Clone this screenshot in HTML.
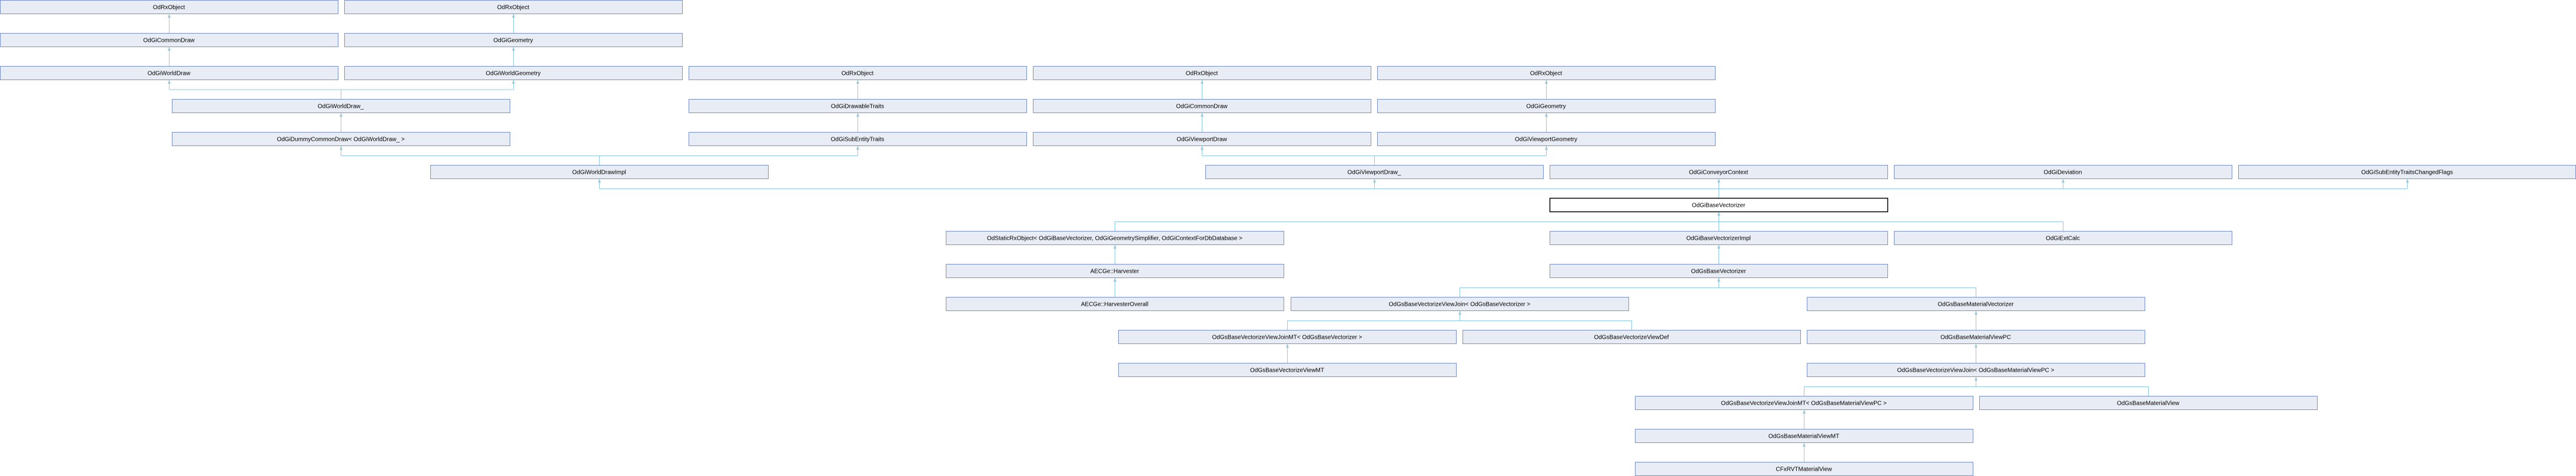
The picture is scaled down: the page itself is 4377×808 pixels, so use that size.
<!DOCTYPE html>
<html><head><meta charset="utf-8"><style>
html,body{margin:0;padding:0;background:#fff;width:4377px;height:808px;overflow:hidden}
svg{display:block}
.b{fill:#e8ecf5;stroke:#7b90c9;stroke-width:1}
.k{fill:#fff;stroke:#000;stroke-width:1.5}
.t{font-family:"Liberation Sans",sans-serif;font-size:10px;fill:#000;text-anchor:middle}
.l{stroke:#8ecae6;stroke-width:1;fill:none}
.a{fill:#8ecae6}
</style></head><body>
<svg width="4377" height="808" viewBox="0 0 4377 808" xmlns="http://www.w3.org/2000/svg">
<g class="l">
<path d="M287.5 24V56M287.5 80V112M872.5 24V56M872.5 80V112"/>
<path d="M579.5 168V152M287.5 152H872.5M287.5 152V136M872.5 152V136"/>
<path d="M1457.5 136V168M1457.5 192V224M2042.5 136V168M2042.5 192V224M2627.5 136V168M2627.5 192V224M579.5 192V224"/>
<path d="M1018.5 280V264M579.5 264.5H1457.5M579.5 264V248M1457.5 264V248"/>
<path d="M2335.5 280V264M2042.5 264.5H2627.5M2042.5 264V248M2627.5 264V248"/>
<path d="M2920.5 336V320M1018.5 320.5H4090.5M1018.5 320V304M2335.5 320V304M2920.5 320V304M3505.5 320V304M4090.5 320V304"/>
<path d="M2920.5 376V360M1894.5 376.5H3505.5M1894.5 392V376M2920.5 392V376M3505.5 392V376"/>
<path d="M1894.5 416V448M1894.5 472V504M2920.5 416V448"/>
<path d="M2920.5 488V472M2480.5 488.5H3357.5M2480.5 504V488M3357.5 504V488"/>
<path d="M2480.5 544V528M2187.5 544.5H2772.5M2187.5 560V544M2772.5 560V544M3357.5 528V560"/>
<path d="M2187.5 584V616M3357.5 584V616"/>
<path d="M3357.5 656V640M3065.5 656.5H3650.5M3065.5 672V656M3650.5 672V656"/>
<path d="M3065.5 696V728M3065.5 752V784"/>
</g>
<g class="a">
<path d="M287.5 24l-2.5 6h5zM287.5 80l-2.5 6h5zM872.5 24l-2.5 6h5zM872.5 80l-2.5 6h5z"/>
<path d="M287.5 136l-2.5 6h5zM872.5 136l-2.5 6h5zM1457.5 136l-2.5 6h5zM1457.5 192l-2.5 6h5zM2042.5 136l-2.5 6h5zM2042.5 192l-2.5 6h5zM2627.5 136l-2.5 6h5zM2627.5 192l-2.5 6h5zM579.5 192l-2.5 6h5z"/>
<path d="M579.5 248l-2.5 6h5zM1457.5 248l-2.5 6h5zM2042.5 248l-2.5 6h5zM2627.5 248l-2.5 6h5z"/>
<path d="M1018.5 304l-2.5 6h5zM2335.5 304l-2.5 6h5zM2920.5 304l-2.5 6h5zM3505.5 304l-2.5 6h5zM4090.5 304l-2.5 6h5z"/>
<path d="M2920.5 360l-2.5 6h5zM1894.5 416l-2.5 6h5zM1894.5 472l-2.5 6h5zM2920.5 416l-2.5 6h5zM2920.5 472l-2.5 6h5zM2480.5 528l-2.5 6h5zM3357.5 528l-2.5 6h5zM2187.5 584l-2.5 6h5zM3357.5 584l-2.5 6h5zM3357.5 640l-2.5 6h5zM3065.5 696l-2.5 6h5zM3065.5 752l-2.5 6h5z"/>
</g>
<g>
<rect class="b" x="0.5" y="0.5" width="574" height="23"/><text class="t" x="287" y="15.5">OdRxObject</text>
<rect class="b" x="585.5" y="0.5" width="574" height="23"/><text class="t" x="872" y="15.5">OdRxObject</text>
<rect class="b" x="0.5" y="56.5" width="574" height="23"/><text class="t" x="287" y="71.5">OdGiCommonDraw</text>
<rect class="b" x="585.5" y="56.5" width="574" height="23"/><text class="t" x="872" y="71.5">OdGiGeometry</text>
<rect class="b" x="0.5" y="112.5" width="574" height="23"/><text class="t" x="287" y="127.5">OdGiWorldDraw</text>
<rect class="b" x="585.5" y="112.5" width="574" height="23"/><text class="t" x="872" y="127.5">OdGiWorldGeometry</text>
<rect class="b" x="1170.5" y="112.5" width="574" height="23"/><text class="t" x="1457" y="127.5">OdRxObject</text>
<rect class="b" x="1755.5" y="112.5" width="574" height="23"/><text class="t" x="2042" y="127.5">OdRxObject</text>
<rect class="b" x="2340.5" y="112.5" width="574" height="23"/><text class="t" x="2627" y="127.5">OdRxObject</text>
<rect class="b" x="292.5" y="168.5" width="574" height="23"/><text class="t" x="579" y="183.5">OdGiWorldDraw_</text>
<rect class="b" x="1170.5" y="168.5" width="574" height="23"/><text class="t" x="1457" y="183.5">OdGiDrawableTraits</text>
<rect class="b" x="1755.5" y="168.5" width="574" height="23"/><text class="t" x="2042" y="183.5">OdGiCommonDraw</text>
<rect class="b" x="2340.5" y="168.5" width="574" height="23"/><text class="t" x="2627" y="183.5">OdGiGeometry</text>
<rect class="b" x="292.5" y="224.5" width="574" height="23"/><text class="t" x="579" y="239.5">OdGiDummyCommonDraw&lt; OdGiWorldDraw_ &gt;</text>
<rect class="b" x="1170.5" y="224.5" width="574" height="23"/><text class="t" x="1457" y="239.5">OdGiSubEntityTraits</text>
<rect class="b" x="1755.5" y="224.5" width="574" height="23"/><text class="t" x="2042" y="239.5">OdGiViewportDraw</text>
<rect class="b" x="2340.5" y="224.5" width="574" height="23"/><text class="t" x="2627" y="239.5">OdGiViewportGeometry</text>
<rect class="b" x="731.5" y="280.5" width="574" height="23"/><text class="t" x="1018" y="295.5">OdGiWorldDrawImpl</text>
<rect class="b" x="2048.5" y="280.5" width="574" height="23"/><text class="t" x="2335" y="295.5">OdGiViewportDraw_</text>
<rect class="b" x="2633.5" y="280.5" width="574" height="23"/><text class="t" x="2920" y="295.5">OdGiConveyorContext</text>
<rect class="b" x="3218.5" y="280.5" width="574" height="23"/><text class="t" x="3505" y="295.5">OdGiDeviation</text>
<rect class="b" x="3803.5" y="280.5" width="573" height="23"/><text class="t" x="4090" y="295.5">OdGiSubEntityTraitsChangedFlags</text>
<rect class="k" x="2633.5" y="336.5" width="574" height="23"/><text class="t" x="2920" y="351.5">OdGiBaseVectorizer</text>
<rect class="b" x="1607.5" y="392.5" width="574" height="23"/><text class="t" x="1894" y="407.5">OdStaticRxObject&lt; OdGiBaseVectorizer, OdGiGeometrySimplifier, OdGiContextForDbDatabase &gt;</text>
<rect class="b" x="2633.5" y="392.5" width="574" height="23"/><text class="t" x="2920" y="407.5">OdGiBaseVectorizerImpl</text>
<rect class="b" x="3218.5" y="392.5" width="574" height="23"/><text class="t" x="3505" y="407.5">OdGiExtCalc</text>
<rect class="b" x="1607.5" y="448.5" width="574" height="23"/><text class="t" x="1894" y="463.5">AECGe::Harvester</text>
<rect class="b" x="2633.5" y="448.5" width="574" height="23"/><text class="t" x="2920" y="463.5">OdGsBaseVectorizer</text>
<rect class="b" x="1607.5" y="504.5" width="574" height="23"/><text class="t" x="1894" y="519.5">AECGe::HarvesterOverall</text>
<rect class="b" x="2193.5" y="504.5" width="574" height="23"/><text class="t" x="2480" y="519.5">OdGsBaseVectorizeViewJoin&lt; OdGsBaseVectorizer &gt;</text>
<rect class="b" x="3070.5" y="504.5" width="574" height="23"/><text class="t" x="3357" y="519.5">OdGsBaseMaterialVectorizer</text>
<rect class="b" x="1900.5" y="560.5" width="574" height="23"/><text class="t" x="2187" y="575.5">OdGsBaseVectorizeViewJoinMT&lt; OdGsBaseVectorizer &gt;</text>
<rect class="b" x="2485.5" y="560.5" width="574" height="23"/><text class="t" x="2772" y="575.5">OdGsBaseVectorizeViewDef</text>
<rect class="b" x="3070.5" y="560.5" width="574" height="23"/><text class="t" x="3357" y="575.5">OdGsBaseMaterialViewPC</text>
<rect class="b" x="1900.5" y="616.5" width="574" height="23"/><text class="t" x="2187" y="631.5">OdGsBaseVectorizeViewMT</text>
<rect class="b" x="3070.5" y="616.5" width="574" height="23"/><text class="t" x="3357" y="631.5">OdGsBaseVectorizeViewJoin&lt; OdGsBaseMaterialViewPC &gt;</text>
<rect class="b" x="2778.5" y="672.5" width="574" height="23"/><text class="t" x="3065" y="687.5">OdGsBaseVectorizeViewJoinMT&lt; OdGsBaseMaterialViewPC &gt;</text>
<rect class="b" x="3363.5" y="672.5" width="574" height="23"/><text class="t" x="3650" y="687.5">OdGsBaseMaterialView</text>
<rect class="b" x="2778.5" y="728.5" width="574" height="23"/><text class="t" x="3065" y="743.5">OdGsBaseMaterialViewMT</text>
<rect class="b" x="2778.5" y="784.5" width="574" height="23"/><text class="t" x="3065" y="799.5">CFxRVTMaterialView</text>
</g>
</svg>
</body></html>
